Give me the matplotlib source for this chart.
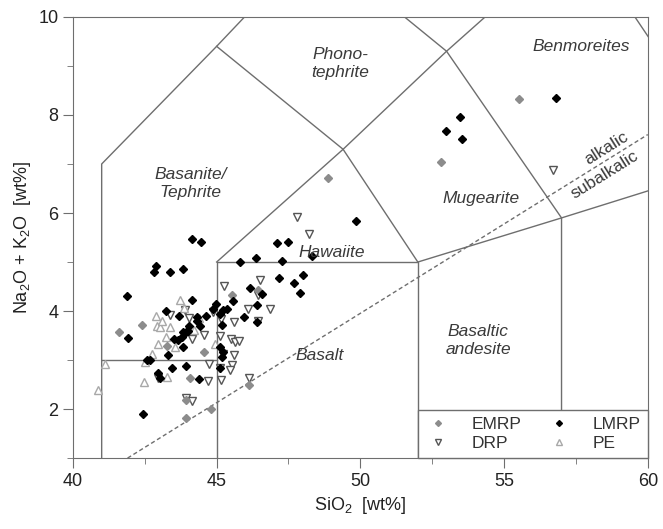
import matplotlib.pyplot as plt
from matplotlib.ticker import MultipleLocator

plt.rcParams['font.family'] = ['Liberation Sans', 'DejaVu Sans']
plt.rcParams['mathtext.default'] = 'regular'

# EMRP (grey diamonds)
emrp_x = [41.62, 42.40, 45.53, 44.57, 44.06, 43.95, 43.94, 44.81, 46.14, 46.45, 43.29, 48.86, 55.52, 52.80]
emrp_y = [3.58, 3.71, 4.32, 3.16, 2.64, 2.18, 1.82, 2.00, 2.50, 4.43, 3.29, 6.71, 8.32, 7.05]

# LMRP (black diamonds)
lmrp_x = [44.13, 44.45, 42.88, 42.82, 43.37, 43.84, 41.87, 41.92, 47.10, 45.82, 46.38, 47.17,
          46.16, 46.58, 46.42, 45.95, 46.39, 45.58, 44.97, 45.23, 45.35, 44.13, 43.23, 44.62,
          44.30, 44.42, 43.70, 44.05, 44.01, 43.84, 43.78, 43.66, 43.84, 43.52, 45.20, 45.11,
          45.23, 45.17, 43.32, 42.59, 42.68, 43.43, 43.95, 42.97, 43.03, 44.39, 45.11, 42.45,
          49.84, 47.50, 47.26, 48.32, 47.99, 47.70, 47.90, 44.30, 45.11, 43.95, 44.88,
          53.46, 52.97, 53.54, 56.80]
lmrp_y = [5.46, 5.41, 4.92, 4.80, 4.80, 4.85, 4.31, 3.46, 5.39, 5.01, 5.08, 4.67,
          4.48, 4.34, 4.12, 3.87, 3.77, 4.20, 4.14, 4.02, 4.04, 4.22, 4.00, 3.90,
          3.80, 3.69, 3.90, 3.69, 3.60, 3.58, 3.48, 3.41, 3.27, 3.44, 3.71, 3.27,
          3.17, 3.07, 3.10, 3.00, 3.01, 2.84, 2.88, 2.74, 2.63, 2.62, 2.84, 1.91,
          5.84, 5.40, 5.02, 5.12, 4.73, 4.57, 4.36, 3.88, 3.95, 3.57, 4.05,
          7.95, 7.67, 7.50, 8.34]

# DRP (open down triangles)
drp_x = [47.78, 48.20, 45.25, 46.51, 46.45, 46.84, 46.08, 44.88, 45.15, 45.62, 46.45, 45.11,
         45.49, 45.63, 45.78, 45.61, 45.21, 44.74, 45.52, 45.46, 45.11, 45.15, 44.71, 46.12,
         42.97, 43.95, 44.15, 44.13, 44.57, 44.05, 43.37, 43.90, 56.71]
drp_y = [5.91, 5.57, 4.52, 4.63, 4.33, 4.05, 4.04, 3.99, 3.83, 3.77, 3.80, 3.49,
         3.42, 3.37, 3.39, 3.11, 3.12, 2.93, 2.90, 2.80, 2.83, 2.59, 2.58, 2.64,
         2.63, 2.22, 2.17, 3.44, 3.51, 3.85, 3.92, 4.02, 6.88]

# PE (open up triangles)
pe_x = [43.72, 43.86, 42.93, 43.03, 43.37, 43.23, 42.97, 42.74, 42.50, 41.11, 40.86, 42.47,
        43.26, 44.21, 43.55, 44.94, 42.88, 43.10, 44.40]
pe_y = [4.22, 4.06, 3.69, 3.68, 3.68, 3.48, 3.33, 3.12, 2.97, 2.93, 2.38, 2.56,
        2.66, 3.61, 3.27, 3.33, 3.89, 3.80, 3.85]

# TAS field boundaries (SiO2, Na2O+K2O)
tas_lines = [
    [(41, 1), (41, 7), (45, 9.4), (48.4, 11.5)],
    [(41, 3), (45, 3)],
    [(45, 1), (45, 5), (52, 5), (52, 1)],
    [(45, 5), (49.4, 7.3), (53, 9.3), (57.6, 11.7)],
    [(45, 9.4), (49.4, 7.3), (52, 5)],
    [(48.4, 11.5), (53, 9.3), (57, 5.9), (57, 1)],
    [(52, 5), (57, 5.9), (63, 7)],
    [(57.6, 11.7), (63, 7)],
]
alk_x = [41.9, 60]
alk_y = [1.0, 7.6]

fig = plt.figure(figsize=(6.63, 5.29), dpi=100)
ax = fig.add_axes([0.110, 0.134, 0.867, 0.834])

lc = '#6e6e6e'
for seg in tas_lines:
    xs = [p[0] for p in seg]
    ys = [p[1] for p in seg]
    ax.plot(xs, ys, color=lc, lw=1.0, zorder=1)
ax.plot(alk_x, alk_y, color=lc, lw=1.0, ls=(0, (3, 2)), zorder=1)

h_emrp, = ax.plot(emrp_x, emrp_y, 'D', color='#8c8c8c', ms=4, mec='#8c8c8c', ls='none', label='EMRP', zorder=3)
h_lmrp, = ax.plot(lmrp_x, lmrp_y, 'D', color='black', ms=4, ls='none', label='LMRP', zorder=3)
h_drp, = ax.plot(drp_x, drp_y, 'v', mfc='white', mec='#555555', mew=1.0, ms=6, ls='none', label='DRP', zorder=2)
h_pe, = ax.plot(pe_x, pe_y, '^', mfc='white', mec='#a8a8a8', mew=1.0, ms=6, ls='none', label='PE', zorder=2)

tc = '#3a3a3a'
kw = dict(style='italic', color=tc, fontsize=12.5, ha='center', va='center', linespacing=1.2)
ax.text(49.3, 9.05, 'Phono-\ntephrite', **kw)
ax.text(57.7, 9.4, 'Benmoreites', **kw)
ax.text(44.1, 6.6, 'Basanite/\nTephrite', **kw)
ax.text(49.0, 5.2, 'Hawaiite', **kw)
ax.text(54.2, 6.3, 'Mugearite', **kw)
ax.text(54.1, 3.4, 'Basaltic\nandesite', **kw)
ax.text(48.6, 3.1, 'Basalt', **kw)
ax.text(58.55, 7.33, 'alkalic', color=tc, fontsize=12.5, rotation=32, ha='center', va='center')
ax.text(58.5, 6.78, 'subalkalic', color=tc, fontsize=12.5, rotation=32, ha='center', va='center')

ax.set_xlim(40, 60)
ax.set_ylim(1, 10)
ax.xaxis.set_major_locator(MultipleLocator(5))
ax.xaxis.set_minor_locator(MultipleLocator(2.5))
ax.yaxis.set_major_locator(MultipleLocator(2))
ax.yaxis.set_minor_locator(MultipleLocator(1))
ax.tick_params(which='both', direction='out', colors=lc, labelcolor='#222222', labelsize=13)
ax.tick_params(which='major', length=7)
ax.tick_params(which='minor', length=4)
for s in ax.spines.values():
    s.set_color(lc)
ax.set_xlabel('SiO$_2$  [wt%]', fontsize=13, color='#222222')
ax.set_ylabel('Na$_2$O + K$_2$O  [wt%]', fontsize=13, color='#222222')

leg = ax.legend([h_emrp, h_drp, h_lmrp, h_pe], ['EMRP', 'DRP', 'LMRP', 'PE'],
                ncol=2, loc='lower left', bbox_to_anchor=(0.6, 0, 0.4, 0.118), mode='expand',
                borderaxespad=0, fancybox=False, framealpha=1, edgecolor=lc, fontsize=12.5,
                handletextpad=1.2, columnspacing=1.0, labelspacing=0.25, handlelength=1.5,
                markerscale=0.75)
leg.get_frame().set_linewidth(1.0)
for t in leg.get_texts():
    t.set_color('#333333')

plt.savefig('out.png')
